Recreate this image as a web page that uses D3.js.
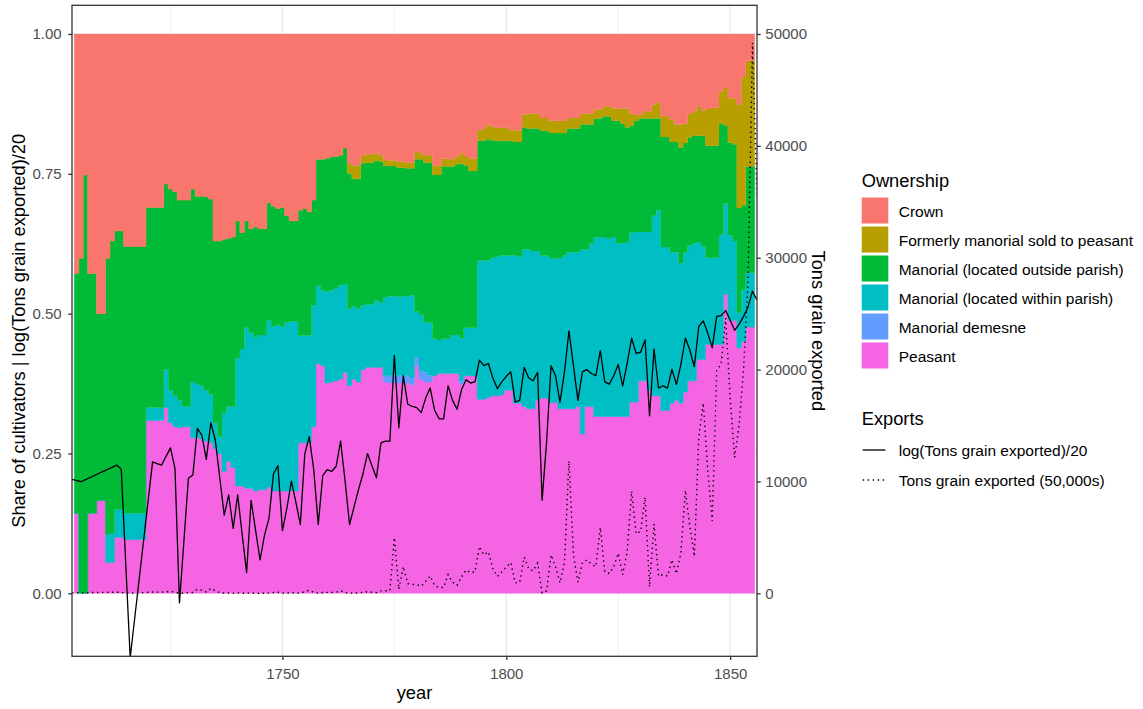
<!DOCTYPE html>
<html>
<head>
<meta charset="utf-8">
<script src="https://cdn.jsdelivr.net/npm/d3@7"></script>
<style>
  body { margin: 0; background: #ffffff; }
  svg text { font-family: "Liberation Sans", Arial, sans-serif; }
</style>
</head>
<body>
<svg id="chart" width="1143" height="709"></svg>
<script>
// ---- Ownership shares of cultivators, one bar per year (1704–1855) ----
const years = d3.range(1704, 1856);

const peasant = [
  .143,0,0,.143,.143,.166,.166,.055,.055,.100,
  .100,.096,.096,.096,.096,.096,.309,.309,.309,.309,
  .332,.305,.298,.296,.298,.298,.278,.278,.276,.272,
  .269,.259,.250,.218,.236,.225,.192,.192,.188,.188,
  .183,.185,.185,.190,.183,.183,.183,.183,.183,.183,
  .269,.269,.269,.298,.411,.407,.376,.378,.380,.383,
  .395,.371,.383,.378,.400,.404,.404,.404,.404,.378,
  .376,.376,.376,.376,.376,.373,.407,.382,.378,.378,
  .389,.393,.393,.393,.393,.393,.374,.389,.389,.389,
  .347,.347,.350,.353,.353,.355,.363,.363,.340,.340,
  .334,.330,.330,.345,.349,.349,.341,.341,.330,.330,
  .330,.330,.334,.285,.334,.334,.316,.316,.316,.316,
  .316,.316,.316,.316,.342,.342,.380,.380,.363,.353,
  .353,.327,.327,.340,.345,.340,.360,.380,.380,.418,
  .418,.445,.445,.445,.445,.535,.488,.488,.439,.450,
  .476,.476
];

const demesne = [
  0,0,0,0,0,0,0,0,0,0,
  0,0,0,0,0,0,0,0,0,0,
  0,0,0,0,0,0,0,0,0,0,
  0,0,0,0,0,0,0,0,0,0,
  0,0,0,0,0,0,0,0,0,0,
  0,0,0,0,0,0,0,0,0,0,
  0,0,0,0,0,0,0,0,0,.011,
  .013,.013,.013,.013,.013,.012,.015,.016,.017,.012,
  0,0,0,0,0,0,.006,0,0,0,
  0,0,0,0,0,0,0,0,0,0,
  0,0,0,0,0,0,0,0,0,0,
  0,0,0,0,0,0,0,0,0,0,
  0,0,0,0,0,0,0,0,0,0,
  0,0,0,0,0,0,0,0,0,0,
  0,0,0,0,0,0,0,0,0,0,
  0,0
];

const withinParish = [
  0,0,0,0,0,0,0,.050,.053,.050,
  .050,.047,.047,.047,.047,.047,.023,.023,.023,.023,
  .068,.058,.055,.049,.036,.036,.100,.096,.095,.091,
  .087,.046,.030,.105,.098,.109,.228,.245,.287,.278,
  .275,.277,.277,.298,.294,.297,.294,.301,.303,.303,
  .192,.192,.192,.217,.139,.135,.163,.164,.166,.168,
  .158,.138,.130,.131,.115,.113,.113,.120,.116,.140,
  .142,.142,.142,.142,.142,.148,.082,.100,.089,.094,
  .066,.060,.062,.062,.069,.069,.076,.086,.086,.086,
  .248,.248,.245,.247,.249,.249,.241,.241,.264,.262,
  .281,.285,.282,.267,.255,.255,.258,.258,.269,.274,
  .280,.280,.276,.330,.281,.292,.320,.320,.321,.318,
  .321,.310,.310,.312,.303,.304,.266,.266,.283,.322,
  .332,.292,.292,.270,.265,.250,.250,.242,.246,.210,
  .202,.155,.155,.155,.196,.162,.152,.142,.063,.093,
  .097,.097
];

const outsideParish = [
  .429,.599,.748,.429,.429,.334,.334,.494,.522,.498,
  .498,.477,.477,.477,.477,.477,.358,.358,.358,.358,
  .332,.360,.365,.358,.369,.369,.345,.336,.339,.346,
  .349,.325,.350,.310,.301,.303,.246,.208,.191,.186,
  .197,.190,.190,.210,.215,.208,.213,.191,.180,.180,
  .224,.227,.221,.188,.226,.234,.239,.238,.235,.232,
  .243,.241,.228,.232,.254,.253,.253,.250,.252,.236,
  .233,.233,.230,.230,.229,.227,.272,.278,.286,.286,
  .293,.295,.308,.308,.301,.305,.312,.290,.280,.280,
  .214,.214,.217,.210,.207,.205,.205,.205,.203,.205,
  .218,.216,.219,.219,.223,.223,.224,.224,.224,.219,
  .221,.221,.221,.223,.223,.212,.213,.213,.216,.218,
  .208,.219,.214,.205,.191,.199,.203,.203,.203,.174,
  .164,.197,.197,.197,.197,.207,.195,.193,.192,.190,
  .198,.200,.200,.200,.199,.140,.166,.173,.187,.151,
  .190,.190
];

const formerlyManorial = [
  0,0,0,0,0,0,0,0,0,0,
  0,0,0,0,0,0,0,0,0,0,
  0,0,0,0,0,0,0,0,0,0,
  0,0,0,0,0,0,0,0,0,0,
  0,0,0,0,0,0,0,0,0,0,
  0,0,0,0,0,0,0,0,0,0,
  0,.019,.024,.024,.013,.015,.015,.013,.011,.011,
  .010,.010,.011,.011,.010,.010,.013,.011,.013,.013,
  .017,.017,.014,.014,.013,.014,.019,.017,.022,.022,
  .019,.021,.026,.024,.023,.024,.024,.019,.021,.021,
  .023,.027,.027,.027,.023,.023,.022,.022,.022,.022,
  .019,.019,.019,.020,.020,.020,.016,.016,.018,.019,
  .022,.022,.027,.034,.022,.010,.006,.013,.013,.025,
  .029,.037,.037,.040,.031,.041,.035,.042,.044,.053,
  .045,.066,.068,.068,.057,.068,.079,.082,.185,.229,
  .189,.189
];

const crown = [
  .428,.401,.252,.428,.428,.500,.500,.401,.370,.352,
  .352,.380,.380,.380,.380,.380,.310,.310,.310,.310,
  .268,.277,.282,.297,.297,.297,.277,.290,.290,.291,
  .295,.370,.370,.367,.365,.363,.334,.355,.334,.348,
  .345,.348,.348,.302,.308,.312,.310,.325,.334,.334,
  .315,.312,.318,.297,.224,.224,.222,.220,.219,.217,
  .204,.231,.235,.235,.218,.215,.215,.213,.217,.224,
  .226,.226,.228,.228,.230,.230,.211,.213,.217,.217,
  .235,.235,.223,.223,.224,.219,.213,.218,.223,.223,
  .172,.170,.162,.166,.168,.167,.167,.172,.172,.172,
  .144,.142,.142,.142,.150,.150,.155,.155,.155,.155,
  .150,.150,.150,.142,.142,.142,.135,.135,.129,.129,
  .133,.133,.133,.133,.142,.145,.145,.138,.138,.126,
  .122,.147,.147,.153,.162,.162,.160,.143,.138,.129,
  .137,.134,.132,.132,.103,.095,.115,.115,.126,.077,
  .048,.048
];

// ---- Grain exports (tons); years without a record are left out ----
const exportYears = [1703, 1705, 1713, 1714, 1716].concat(d3.range(1721, 1857));
const tonsExported = [
  59,54,98,84,0.1,
  110,103.5,97.5,134,181,87.4,0.71,6.55,61,68.7,
  365,287,120.5,446,240,62.8,16.4,33.8,10.2,33.8,
  8.3,2.1,27.7,9.6,3.3,8,14.6,72,96,9.4,
  21,55,26,11.7,148,270,83,11.7,67,83,
  78,94,230,55,11.7,22,41,72,148,96,
  62,217,230,230,4970,372,2390,863,797,765,
  639,1075,1540,692,513,513,1670,992,720,1450,
  2080,1845,1920,4190,3430,3710,2210,1510,1920,2345,
  2750,934,992,3230,2210,2000,2700,28,221,3430,
  2390,934,2750,11840,3430,992,2750,2980,2590,2390,
  5880,1920,1770,2390,3570,1670,3710,9140,5320,5540,
  8600,572,6190,1540,1670,1540,3000,1750,3600,9200,
  6000,3300,14000,17000,11000,6470,19950,20500,24600,17500,
  12140,15000,20000,28000,49200,35500
];

// ---- Labels, colours and ticks ----
const stackKeys = [
  "Peasant",
  "Manorial demesne",
  "Manorial (located within parish)",
  "Manorial (located outside parish)",
  "Formerly manorial sold to peasant",
  "Crown"
];
const stackSeries = [peasant, demesne, withinParish, outsideParish, formerlyManorial, crown];
const legendKeys = stackKeys.slice().reverse();
const fillColors = ["#F564E3", "#619CFF", "#00BFC4", "#00BA38", "#B79F00", "#F8766D"];

const shareTicks = [0, 0.25, 0.5, 0.75, 1];
const shareMinorTicks = [0.125, 0.375, 0.625, 0.875];
const yearTicks = [1750, 1800, 1850];
const yearMinorTicks = [1725, 1775, 1825];
const tonTicks = [0, 10000, 20000, 30000, 40000, 50000];

// ---- Geometry ----
const panel = { left: 72, right: 757, top: 5.3, bottom: 656.3 };
const x = d3.scaleLinear().domain([1703, 1856]).range([panel.left, panel.right]);
const y = d3.scaleLinear().domain([0, 1]).range([593.3, 34]);
const yTons = d3.scaleLinear().domain([0, 50000]).range([593.3, 34]);

const svg = d3.select("#chart");
const tickColor = "#333333";
const labelColor = "#4D4D4D";

svg.append("defs").append("clipPath").attr("id", "panel-clip")
  .append("rect")
  .attr("x", panel.left).attr("y", panel.top)
  .attr("width", panel.right - panel.left).attr("height", panel.bottom - panel.top);

// grid
const grid = svg.append("g");
grid.selectAll(".vmin").data(yearMinorTicks).join("line")
  .attr("x1", d => x(d)).attr("x2", d => x(d))
  .attr("y1", panel.top).attr("y2", panel.bottom)
  .attr("stroke", "#EBEBEB").attr("stroke-width", 0.7);
grid.selectAll(".vmaj").data(yearTicks).join("line")
  .attr("x1", d => x(d)).attr("x2", d => x(d))
  .attr("y1", panel.top).attr("y2", panel.bottom)
  .attr("stroke", "#EBEBEB").attr("stroke-width", 1.4);
grid.selectAll(".hmin").data(shareMinorTicks).join("line")
  .attr("x1", panel.left).attr("x2", panel.right)
  .attr("y1", d => y(d)).attr("y2", d => y(d))
  .attr("stroke", "#EBEBEB").attr("stroke-width", 0.7);
grid.selectAll(".hmaj").data(shareTicks).join("line")
  .attr("x1", panel.left).attr("x2", panel.right)
  .attr("y1", d => y(d)).attr("y2", d => y(d))
  .attr("stroke", "#EBEBEB").attr("stroke-width", 1.4);

// stacked ownership shares
const rows = years.map((yr, i) => {
  const r = { year: yr };
  stackKeys.forEach((k, j) => { r[k] = stackSeries[j][i]; });
  return r;
});
const layers = d3.stack().keys(stackKeys)(rows);

const area = d3.area()
  .curve(d3.curveStepAfter)
  .x(d => x(d.data.year - 0.5))
  .y0(d => y(d[0]))
  .y1(d => y(d[1]));

const plot = svg.append("g").attr("clip-path", "url(#panel-clip)");
layers.forEach((layer, j) => {
  const last = layer[layer.length - 1];
  const closing = Object.assign([last[0], last[1]], { data: { year: last.data.year + 1 } });
  plot.append("path")
    .datum(layer.concat([closing]))
    .attr("fill", fillColors[j])
    .attr("stroke", fillColors[j])
    .attr("stroke-width", 0.3)
    .attr("d", area);
});

// export lines
const exportRows = exportYears.map((yr, i) => ({ year: yr, tons: tonsExported[i] }));
const logLine = d3.line().x(d => x(d.year)).y(d => y(Math.log(d.tons) / 20));
const tonLine = d3.line().x(d => x(d.year)).y(d => yTons(d.tons));

plot.append("path").datum(exportRows)
  .attr("fill", "none").attr("stroke", "#000").attr("stroke-width", 1.4)
  .attr("stroke-dasharray", "1.4,3.6")
  .attr("d", tonLine);
plot.append("path").datum(exportRows)
  .attr("fill", "none").attr("stroke", "#000").attr("stroke-width", 1.3)
  .attr("stroke-linejoin", "round")
  .attr("d", logLine);

// panel border
svg.append("rect")
  .attr("x", panel.left).attr("y", panel.top)
  .attr("width", panel.right - panel.left).attr("height", panel.bottom - panel.top)
  .attr("fill", "none").attr("stroke", tickColor).attr("stroke-width", 1.3);

// axes
function styleAxis(g) {
  g.select(".domain").remove();
  g.selectAll(".tick line").attr("stroke", tickColor).attr("stroke-width", 1.3);
  g.selectAll(".tick text").attr("fill", labelColor).style("font-size", "15px")
    .style("font-family", "'Liberation Sans', Arial, sans-serif");
}

svg.append("g").attr("transform", `translate(${panel.left},0)`)
  .call(d3.axisLeft(y).tickValues(shareTicks).tickFormat(d3.format(".2f")).tickSize(3.7).tickPadding(6.6))
  .call(styleAxis);

svg.append("g").attr("transform", `translate(0,${panel.bottom})`)
  .call(d3.axisBottom(x).tickValues(yearTicks).tickFormat(d3.format("d")).tickSize(3.7).tickPadding(8))
  .call(styleAxis);

svg.append("g").attr("transform", `translate(${panel.right},0)`)
  .call(d3.axisRight(yTons).tickValues(tonTicks).tickFormat(d3.format("d")).tickSize(3.7).tickPadding(4.6))
  .call(styleAxis);

// axis titles
svg.append("text")
  .attr("x", (panel.left + panel.right) / 2).attr("y", 699)
  .attr("text-anchor", "middle").style("font-size", "18.3px").attr("fill", "#000")
  .text("year");
svg.append("text")
  .attr("transform", `translate(25,${(panel.top + panel.bottom) / 2}) rotate(-90)`)
  .attr("text-anchor", "middle").style("font-size", "18.3px").attr("fill", "#000")
  .text("Share of cultivators | log(Tons grain exported)/20");
svg.append("text")
  .attr("transform", `translate(812,${(panel.top + panel.bottom) / 2}) rotate(90)`)
  .attr("text-anchor", "middle").style("font-size", "18.3px").attr("fill", "#000")
  .text("Tons grain exported");

// legend: ownership
const legend = svg.append("g");
legend.append("text").attr("x", 861.7).attr("y", 186.7)
  .style("font-size", "18.3px").attr("fill", "#000").text("Ownership");
legendKeys.forEach((k, i) => {
  const cy = 210.5 + i * 29;
  legend.append("rect")
    .attr("x", 861.7).attr("y", cy - 13).attr("width", 26.6).attr("height", 26)
    .attr("fill", fillColors[stackKeys.indexOf(k)]);
  legend.append("text").attr("x", 898.7).attr("y", cy + 6.5)
    .style("font-size", "15.5px").attr("fill", "#000").text(k);
});

// legend: exports
legend.append("text").attr("x", 861.7).attr("y", 425)
  .style("font-size", "18.3px").attr("fill", "#000").text("Exports");
const exportLegend = [
  { label: "log(Tons grain exported)/20", dash: null, cy: 450 },
  { label: "Tons grain exported (50,000s)", dash: "1.4,3.6", cy: 480 }
];
exportLegend.forEach(e => {
  legend.append("line")
    .attr("x1", 862.7).attr("x2", 885.5).attr("y1", e.cy).attr("y2", e.cy)
    .attr("stroke", "#000").attr("stroke-width", 1.3)
    .attr("stroke-dasharray", e.dash);
  legend.append("text").attr("x", 898.7).attr("y", e.cy + 6)
    .style("font-size", "15.5px").attr("fill", "#000").text(e.label);
});
</script>
</body>
</html>
